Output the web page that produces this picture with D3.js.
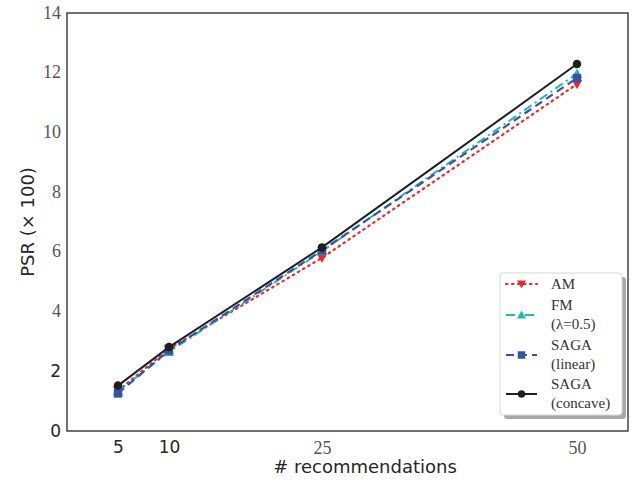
<!DOCTYPE html>
<html>
<head>
<meta charset="utf-8">
<script src="https://cdn.jsdelivr.net/npm/d3@7"></script>
<style>
  body { margin: 0; background: #fff; }
  svg { display: block; }
</style>
</head>
<body>
<svg id="chart" width="633" height="480"></svg>
<script>
// Number of recommendations on the x axis
const recommendations = [5, 10, 25, 50];

// PSR (x 100) per method
const amValues = [1.35, 2.75, 5.8, 11.62];
const fmValues = [1.33, 2.65, 6.02, 11.97];
const sagaLinearValues = [1.26, 2.7, 6.05, 11.82];
const sagaConcaveValues = [1.52, 2.81, 6.15, 12.29];

const yTicks = [0, 2, 4, 6, 8, 10, 12, 14];
const xTicks = [5, 10, 25, 50];

const seriesNames = ["AM", "FM", "SAGA linear", "SAGA concave"];
const legendLabels = [["AM"], ["FM", "(\u03bb=0.5)"], ["SAGA", "(linear)"], ["SAGA", "(concave)"]];

const series = [
  { name: seriesNames[0], values: amValues, color: "#f0252b", dash: "1.5,4.5", width: 2.2, marker: "triDown", cap: "round" },
  { name: seriesNames[1], values: fmValues, color: "#22b7b3", dash: "9,4,2,4", width: 2, marker: "triUp", cap: "butt" },
  { name: seriesNames[2], values: sagaLinearValues, color: "#3753a2", dash: "8,5", width: 2.2, marker: "square", cap: "butt" },
  { name: seriesNames[3], values: sagaConcaveValues, color: "#1f1f1f", dash: null, width: 2, marker: "circle", cap: "butt" }
];

const svg = d3.select("#chart");
const margin = { left: 67, right: 5, top: 13, bottom: 49 };
const W = 633, H = 480;

const x = d3.scaleLinear().domain([0, 55]).range([margin.left, W - margin.right]);
const y = d3.scaleLinear().domain([0, 14]).range([H - margin.bottom, margin.top]);

const serif = "'Liberation Serif', 'DejaVu Serif', serif";
const sans = "'DejaVu Sans', sans-serif";

// Frame
svg.append("rect")
  .attr("x", x(0)).attr("y", y(14))
  .attr("width", x(55) - x(0)).attr("height", y(0) - y(14))
  .attr("fill", "none").attr("stroke", "#262626").attr("stroke-width", 1.3);

// Y axis tick labels (mixed faces)
const yAxis = d3.axisLeft(y).tickValues(yTicks).tickSize(0).tickPadding(6);
const gy = svg.append("g").attr("transform", `translate(${x(0)},0)`).call(yAxis);
gy.select(".domain").remove();
gy.selectAll("text")
  .attr("fill", d => d <= 2 ? "#262626" : "#555")
  .style("font-family", d => d <= 2 ? sans : serif)
  .style("font-size", d => d <= 2 ? "17px" : "18px")
  .attr("dy", d => d <= 2 ? "0.32em" : "0.28em");

// X axis tick labels
const xAxis = d3.axisBottom(x).tickValues(xTicks).tickSize(0).tickPadding(10);
const gx = svg.append("g").attr("transform", `translate(0,${y(0)})`).call(xAxis);
gx.select(".domain").remove();
gx.selectAll("text")
  .attr("fill", d => d <= 10 ? "#262626" : "#555")
  .style("font-family", d => d <= 10 ? sans : serif)
  .style("font-size", d => d <= 10 ? "17px" : "18px");

// Axis titles
svg.append("text")
  .attr("x", 365).attr("y", 473)
  .attr("text-anchor", "middle")
  .attr("fill", "#262626")
  .style("font-family", sans).style("font-size", "18px")
  .text("# recommendations");

svg.append("text")
  .attr("transform", "translate(34,222) rotate(-90)")
  .attr("text-anchor", "middle")
  .attr("fill", "#262626")
  .style("font-family", sans).style("font-size", "18px")
  .text("PSR (\u00d7 100)");

// Marker drawing
function drawMarker(g, type, cx, cy, color, s) {
  if (type === "circle") {
    g.append("circle").attr("cx", cx).attr("cy", cy).attr("r", s * 0.5).attr("fill", color);
  } else if (type === "square") {
    g.append("rect").attr("x", cx - s * 0.5).attr("y", cy - s * 0.5)
      .attr("width", s).attr("height", s).attr("fill", color);
  } else if (type === "triUp") {
    const h = s * 0.6;
    g.append("path").attr("d", `M${cx},${cy - h}L${cx + h},${cy + h * 0.8}L${cx - h},${cy + h * 0.8}Z`).attr("fill", color);
  } else if (type === "triDown") {
    const h = s * 0.6;
    g.append("path").attr("d", `M${cx},${cy + h}L${cx + h},${cy - h * 0.8}L${cx - h},${cy - h * 0.8}Z`).attr("fill", color);
  }
}

const line = d3.line().x((d, i) => x(recommendations[i])).y(d => y(d));

series.forEach(s => {
  const g = svg.append("g");
  g.append("path")
    .datum(s.values)
    .attr("d", line)
    .attr("fill", "none")
    .attr("stroke", s.color)
    .attr("stroke-width", s.width)
    .attr("stroke-linecap", s.cap)
    .attr("stroke-dasharray", s.dash);
  s.values.forEach((v, i) => drawMarker(g, s.marker, x(recommendations[i]), y(v), s.color, 8.5));
});

// Legend
const lg = svg.append("g");
const lx = 500, ly = 273, lw = 122, lh = 142;
lg.append("rect").attr("x", lx + 4).attr("y", ly + 4).attr("width", lw).attr("height", lh)
  .attr("rx", 3).attr("fill", "#a8a8a8");
lg.append("rect").attr("x", lx).attr("y", ly).attr("width", lw).attr("height", lh)
  .attr("rx", 3).attr("fill", "#fff").attr("stroke", "#d6d6d6").attr("stroke-width", 1);

const rowY = [284, 315, 355, 394];
series.forEach((s, i) => {
  const cy = rowY[i];
  lg.append("line")
    .attr("x1", 506).attr("x2", 537).attr("y1", cy).attr("y2", cy)
    .attr("stroke", s.color).attr("stroke-width", s.width)
    .attr("stroke-linecap", s.cap)
    .attr("stroke-dasharray", s.dash);
  drawMarker(lg, s.marker, 521.5, cy, s.color, 7.5);
  const lines = legendLabels[i];
  const t = lg.append("text")
    .attr("fill", "#333")
    .style("font-family", serif).style("font-size", "15px");
  if (lines.length === 1) {
    t.append("tspan").attr("x", 551).attr("y", cy + 5).text(lines[0]);
  } else {
    t.append("tspan").attr("x", 551).attr("y", cy - 5).text(lines[0]);
    t.append("tspan").attr("x", 551).attr("y", cy + 14).text(lines[1]);
  }
});
</script>
</body>
</html>
